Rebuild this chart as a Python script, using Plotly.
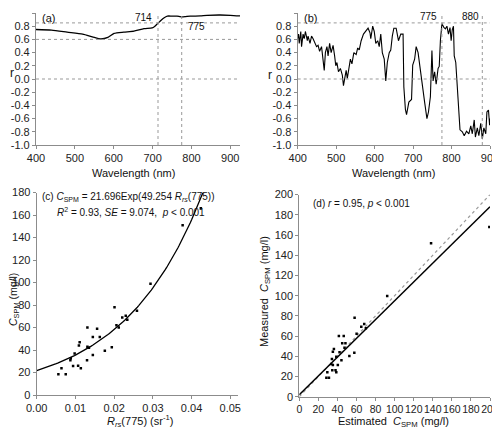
import numpy as np
import plotly.graph_objects as go

# ---------------- data ----------------
# (a) correlation spectrum, smooth
wl_a = [400, 440, 480, 520, 545, 567, 585, 601, 626, 652, 678, 699, 706, 714, 722, 729, 738,
        750, 763, 770, 776, 785, 797, 810, 823, 840, 874, 900, 925]
r_a = [0.75, 0.74, 0.71, 0.68, 0.64, 0.607, 0.63, 0.69, 0.71, 0.725, 0.763, 0.773, 0.80, 0.845,
       0.89, 0.925, 0.953, 0.953, 0.953, 0.945, 0.94, 0.945, 0.953, 0.953, 0.955, 0.965, 0.97,
       0.965, 0.955]

# (b) correlation spectrum, derivative (noisy)
wl_b = [400, 402, 404, 408, 410, 414, 417, 420, 425, 427, 432, 436, 440, 445, 449, 453, 457, 462,
        466, 469, 472, 476, 479, 483, 487, 492, 496, 499, 502, 506, 511, 516, 519, 522, 526, 529,
        533, 537, 541, 546, 552, 556, 560, 565, 571, 577, 583, 588, 590, 595, 599, 603, 608, 612,
        616, 620, 625, 629, 633, 638, 642, 646, 650, 656, 662, 668, 674, 676, 680, 683, 689, 696,
        699, 704, 708, 713, 719, 724, 730, 736, 740, 745, 749, 752, 756, 760, 765, 768, 771, 775,
        780, 784, 788, 792, 796, 799, 802, 805, 807, 811, 815, 819, 822, 828, 833, 839, 845, 850,
        854, 859, 862, 867, 871, 876, 880, 884, 889, 892, 896, 899, 900]
r_b = [0.62, 0.68, 0.54, 0.72, 0.49, 0.68, 0.61, 0.72, 0.58, 0.65, 0.54, 0.65, 0.61, 0.54, 0.49,
       0.51, 0.42, 0.49, 0.30, 0.13, 0.40, 0.49, 0.35, 0.54, 0.40, 0.51, 0.35, 0.20, 0.25, 0.11,
       0.16, 0.06, -0.10, 0.01, 0.13, 0.01, 0.16, 0.30, 0.23, 0.40, 0.37, 0.47, 0.44, 0.58, 0.68,
       0.72, 0.77, 0.70, 0.61, 0.80, 0.72, 0.54, 0.58, 0.49, 0.68, 0.40, 0.30, -0.03, 0.25, 0.40,
       0.44, 0.65, 0.77, 0.77, 0.58, 0.68, 0.68, -0.12, -0.46, -0.54, -0.35, -0.31, 0.21, 0.30,
       0.49, 0.40, 0.11, -0.12, -0.35, -0.60, -0.50, -0.27, 0.43, -0.03, 0.11, -0.08, 0.16, 0.19,
       0.58, 0.84, 0.78, 0.76, 0.80, 0.68, 0.78, 0.58, 0.75, 0.80, 0.35, 0.25, -0.17, -0.60, -0.77,
       -0.80, -0.86, -0.79, -0.83, -0.71, -0.83, -0.62, -0.88, -0.74, -0.86, -0.67, -0.91, -0.74,
       -0.83, -0.50, -0.47, -0.70, -0.60]

ref_h_a = [0.85, 0.6, 0.0]
ref_v_a = [714, 775]
ref_h_b = [0.85, 0.0]
ref_v_b = [775, 880]

# (c) Rrs(775) vs measured CSPM
rrs = [0.0056, 0.0064, 0.0075, 0.0087, 0.0088, 0.0094, 0.0098, 0.0107, 0.0109, 0.0111, 0.0114,
       0.0130, 0.0131, 0.0131, 0.0135, 0.0145, 0.0145, 0.0156, 0.0163, 0.0176, 0.0194, 0.0201,
       0.0206, 0.0212, 0.0221, 0.0230, 0.0234, 0.0259, 0.0294, 0.0377, 0.0424]
cspm = [18.4, 23.7, 18.4, 31, 32.6, 25.8, 37, 26, 44, 47, 23.7, 30.8, 60, 43, 42, 35.5, 51.5,
        59, 51.5, 39.4, 42.4, 78, 62, 60, 69, 70.5, 67, 75, 99, 151, 166]
fit_a, fit_b = 21.696, 49.254

# (d) estimated vs measured
est = [28.4, 31.1, 29.4, 38.8, 34.6, 38.0, 35.2, 33.5, 40.4, 44.2, 34.2, 38.8, 42.2, 52.5, 57.7,
       47.4, 45, 48.4, 35.2, 36.3, 41.5, 46.6, 58, 60.1, 65, 68.1, 69.8, 92.2, 138.2, 199.3]
meas = [18.8, 18.8, 24.1, 24.1, 26.1, 26.1, 31.4, 32.4, 31.4, 36, 37.3, 39.6, 44, 40.3, 43.6,
        48.5, 52.8, 52.8, 44.5, 47.2, 60, 60, 78.2, 62.4, 69.3, 72, 67.7, 99.7, 151.8, 168]
reg_slope, reg_icpt = 0.93, 2.0

# tick labels
r_ticks = [-1.0, -0.8, -0.6, -0.4, -0.2, 0.0, 0.2, 0.4, 0.6, 0.8, 1.0]
r_ticktext = ["-1.0", "-0.8", "-0.6", "-0.4", "-0.2", "0.0", "0.2", "0.4", "0.6", "0.8", "1.0"]
wl_ticks = [400, 500, 600, 700, 800, 900]
rrs_ticks = [0.00, 0.01, 0.02, 0.03, 0.04, 0.05]
c_ticks = list(range(0, 181, 20))
d_ticks = list(range(0, 201, 20))

# ---------------- figure ----------------
# page body has an 8px margin: work in page coordinates and shift
OFF = 8
W, H = 500 - OFF, 431 - OFF
def px(x):
    return (x - OFF) / W
def py(y):
    return 1 - (y - OFF) / H

fig = go.Figure()

fig.add_trace(go.Scatter(x=wl_a, y=r_a, mode="lines", line=dict(color="black", width=1.3, shape="spline", smoothing=0.6),
                         xaxis="x", yaxis="y", showlegend=False))
fig.add_trace(go.Scatter(x=wl_b, y=r_b, mode="lines", line=dict(color="black", width=1.1),
                         xaxis="x2", yaxis="y2", showlegend=False))

xc = np.linspace(0, np.log(180 / fit_a) / fit_b, 120)
fig.add_trace(go.Scatter(x=xc, y=fit_a * np.exp(fit_b * xc), mode="lines", line=dict(color="black", width=1.3),
                         xaxis="x3", yaxis="y3", showlegend=False))
fig.add_trace(go.Scatter(x=rrs, y=cspm, mode="markers", marker=dict(symbol="square", size=2.5, color="black"),
                         xaxis="x3", yaxis="y3", showlegend=False))

fig.add_trace(go.Scatter(x=[0, 200], y=[0, 200], mode="lines", line=dict(color="#999999", width=1.2, dash="dot"),
                         xaxis="x4", yaxis="y4", showlegend=False))
fig.add_trace(go.Scatter(x=[0, 200], y=[reg_icpt, reg_icpt + reg_slope * 200], mode="lines",
                         line=dict(color="black", width=1.5), xaxis="x4", yaxis="y4", showlegend=False))
fig.add_trace(go.Scatter(x=est, y=meas, mode="markers", marker=dict(symbol="square", size=2.5, color="black"),
                         xaxis="x4", yaxis="y4", showlegend=False))

axcommon = dict(showgrid=False, zeroline=False, showline=True, linecolor="#8c8c8c", linewidth=1.2,
                ticks="outside", ticklen=3, tickcolor="#8c8c8c", tickfont=dict(size=11, color="#222"),
                mirror=False, automargin=False)

shapes = []
for h in ref_h_a:
    shapes.append(dict(type="line", xref="x", yref="y", x0=400, x1=925, y0=h, y1=h,
                       line=dict(color="#999999", width=1, dash="dot")))
for v in ref_v_a:
    shapes.append(dict(type="line", xref="x", yref="y", x0=v, x1=v, y0=-1, y1=1,
                       line=dict(color="#999999", width=1, dash="dot")))
for h in ref_h_b:
    shapes.append(dict(type="line", xref="x2", yref="y2", x0=400, x1=900, y0=h, y1=h,
                       line=dict(color="#999999", width=1, dash="dot")))
for v in ref_v_b:
    shapes.append(dict(type="line", xref="x2", yref="y2", x0=v, x1=v, y0=-1, y1=1,
                       line=dict(color="#999999", width=1, dash="dot")))

TOP_AB = 13
fig.update_layout(
    width=W, height=H, margin=dict(l=0, r=0, t=0, b=0, autoexpand=False),
    paper_bgcolor="white", plot_bgcolor="white",
    font=dict(family="Liberation Sans, Arial, sans-serif", color="#111"),
    xaxis=dict(axcommon, domain=[px(36), px(240)], range=[400, 925], tickvals=wl_ticks, tickangle=0, anchor="y"),
    yaxis=dict(axcommon, domain=[py(145), py(TOP_AB)], range=[-1, 1], tickvals=r_ticks, ticktext=r_ticktext, anchor="x"),
    xaxis2=dict(axcommon, domain=[px(297.7), px(490)], range=[400, 900], tickvals=wl_ticks, tickangle=0, anchor="y2"),
    yaxis2=dict(axcommon, domain=[py(145), py(TOP_AB)], range=[-1, 1], tickvals=r_ticks, ticktext=r_ticktext, anchor="x2"),
    xaxis3=dict(axcommon, domain=[px(36.7), px(238)], range=[0, 0.052], tickvals=rrs_ticks, tickformat=".2f",
                tickangle=0, anchor="y3"),
    yaxis3=dict(axcommon, domain=[py(395), py(192.5)], range=[0, 180], tickvals=c_ticks, anchor="x3"),
    xaxis4=dict(axcommon, domain=[px(299.3), px(490)], range=[0, 200], tickvals=d_ticks, tickangle=0,
                tickfont=dict(size=10.5, color="#222"), anchor="y4"),
    yaxis4=dict(axcommon, domain=[py(396.7), py(194.6)], range=[0, 200], tickvals=d_ticks, anchor="x4"),
    shapes=shapes,
)

def ann(text, x, y, xanchor="center", yanchor="middle", size=11, angle=0):
    fig.add_annotation(text=text, x=px(x), y=py(y), xref="paper", yref="paper", showarrow=False,
                       xanchor=xanchor, yanchor=yanchor, textangle=angle, font=dict(size=size, color="#111"))

# axis titles
ann("r", 11.5, 73, size=12)
ann("r", 270, 75, size=12)
ann("Wavelength (nm)", 133, 173, size=11)
ann("Wavelength (nm)", 393, 173, size=11)
ann("<i>C</i><sub>SPM</sub> (mg/l)", 14, 300, angle=-90, size=10.5)
ann("<i>R<sub>rs</sub></i>(775) (sr<sup>-1</sup>)", 140, 430.5, yanchor="bottom", size=11)
ann("Measured  <i>C</i><sub>SPM</sub> (mg/l)", 265, 292, angle=-90, size=11)
ann("Estimated  <i>C</i><sub>SPM</sub> (mg/l)", 393, 430.5, yanchor="bottom", size=11)

# panel labels
ann("(a)", 40, 18, xanchor="left", size=11)
ann("714", 154, 17, xanchor="right", size=10)
ann("775", 186, 27, xanchor="left", size=10)
ann("(b)", 302, 18, xanchor="left", size=11)
ann("775", 439, 16, xanchor="right", size=10)
ann("880", 481, 16, xanchor="right", size=10)
ann("(c) <i>C</i><sub>SPM</sub> = 21.696Exp(49.254 <i>R<sub>rs</sub></i>(775))", 40, 197, xanchor="left", size=10)
ann("<i>R</i><sup>2</sup> = 0.93, <i>SE</i> = 9.074,  <i>p</i> < 0.001", 55, 212, xanchor="left", size=10)
ann("(d) <i>r</i> = 0.95, <i>p</i> < 0.001", 311, 203, xanchor="left", size=10)

fig.write_html("out.html")
